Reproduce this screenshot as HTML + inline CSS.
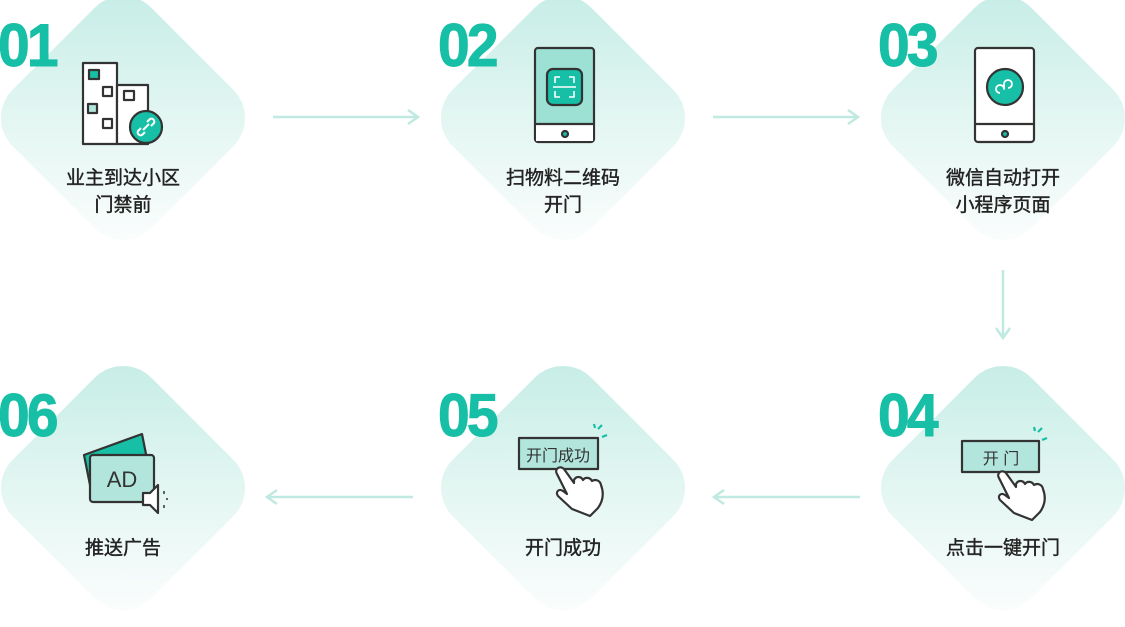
<!DOCTYPE html>
<html><head><meta charset="utf-8"><style>
body{margin:0;width:1125px;height:614px;background:#fff;position:relative;overflow:hidden;font-family:"Liberation Sans","Noto Sans CJK SC",sans-serif}
.d{position:absolute;width:196px;height:196px;border-radius:40px;transform:rotate(45deg);background:linear-gradient(to bottom right,#c4ece5 0%,#e3f6f2 50%,#fdfefe 100%)}
.n{position:absolute;font-weight:bold;font-size:60px;color:#16bfa5;letter-spacing:-3px;line-height:1;transform:scaleX(0.95);transform-origin:left;-webkit-text-stroke:1px #16bfa5}
.t{position:absolute;width:200px;text-align:center;font-size:19px;font-weight:normal;color:#222;line-height:27px;font-family:"Liberation Sans","Noto Sans CJK SC",sans-serif;-webkit-text-stroke:0.4px #222}
svg{position:absolute;left:0;top:0}
</style></head><body>
<div class="d" style="left:25px;top:20px"></div>
<div class="d" style="left:465px;top:20px"></div>
<div class="d" style="left:905px;top:20px"></div>
<div class="d" style="left:25px;top:390px"></div>
<div class="d" style="left:465px;top:390px"></div>
<div class="d" style="left:905px;top:390px"></div>
<div class="n" style="left:-2px;top:16px">01</div>
<div class="n" style="left:438px;top:16px">02</div>
<div class="n" style="left:878px;top:16px">03</div>
<div class="n" style="left:878px;top:386px">04</div>
<div class="n" style="left:438px;top:386px">05</div>
<div class="n" style="left:-2px;top:386px">06</div>
<div class="t" style="left:23px;top:165px">业主到达小区<br>门禁前</div>
<div class="t" style="left:463px;top:165px">扫物料二维码<br>开门</div>
<div class="t" style="left:903px;top:165px">微信自动打开<br>小程序页面</div>
<div class="t" style="left:903px;top:535px">点击一键开门</div>
<div class="t" style="left:463px;top:535px">开门成功</div>
<div class="t" style="left:23px;top:535px">推送广告</div>
<svg width="1125" height="614" viewBox="0 0 1125 614">
<g stroke="#bfe9e1" stroke-width="2.5" fill="none">
<path d="M273 117H418M408 110L418 117L408 124"/>
<path d="M713 117H858M848 110L858 117L848 124"/>
<path d="M1003 270V338M996 328L1003 338L1010 328"/>
<path d="M860 497H714M724 490L714 497L724 504"/>
<path d="M413 497H267M277 490L267 497L277 504"/>
</g>
<g stroke="#333" stroke-width="2.2" fill="none" stroke-linejoin="round">
<rect x="83" y="63" width="34" height="81" fill="#fff"/>
<rect x="117" y="85" width="31" height="59" fill="#fff"/>
<rect x="89" y="70" width="10" height="9" fill="#16bfa5"/>
<rect x="103" y="87" width="9" height="9"/>
<rect x="88" y="104" width="9" height="9" fill="#b2e6dc"/>
<rect x="103" y="119" width="9" height="9"/>
<rect x="124" y="91" width="10" height="9"/>
<circle cx="146" cy="127" r="16" fill="#16bfa5"/>
<path d="M141 128l-3 3a3 3 0 0 0 4 4l3-3M151 126l3-3a3 3 0 0 0-4-4l-3 3M143 130l6-6" stroke="#fff" stroke-width="2"/>
<rect x="535" y="48" width="59" height="94" rx="3" fill="#9de0d4"/>
<rect x="536" y="124" width="57" height="17" fill="#fff" stroke="none"/>
<path d="M535 124H594"/>
<circle cx="565" cy="134" r="3" fill="#16bfa5"/>
<rect x="547" y="69" width="35" height="36" rx="6" fill="#16bfa5"/>
<path d="M555 83v-6h5M569 77h5v6M555 91v6h5M569 97h5v-6M553 87h23" stroke="#fff" stroke-width="1.6"/>
<rect x="975" y="48" width="59" height="94" rx="3" fill="#fff"/>
<path d="M975 124H1034"/>
<circle cx="1005" cy="134" r="3" fill="#16bfa5"/>
<circle cx="1005" cy="87" r="18" fill="#16bfa5"/>
<path d="M1000 93a4 4 0 1 1 4-4v-5a4 4 0 1 1 4 4" stroke="#fff" stroke-width="1.8"/>
<rect x="962" y="441" width="77" height="31" fill="#b2e6dc"/>
<path d="M1038 432l4-4M1042 440l5-2M1035 431l-1-4" stroke="#16bfa5"/>
<rect x="519" y="438" width="79" height="31" fill="#b2e6dc"/>
<path d="M598 429l4-4M602 437l5-2M595 428l-1-4" stroke="#16bfa5"/>
<path d="M999 478c-3-5 3-9 7-5l10 14 0-3c2-4 7-4 9 0 2-3 7-3 9 1 3-2 8-1 9 4 3 8 2 16-3 23l-8 8-18-7-14-13c-3-4 1-8 5-5l4 3z" fill="#fff"/>
<path d="M557 474c-3-5 3-9 7-5l10 14 0-3c2-4 7-4 9 0 2-3 7-3 9 1 3-2 8-1 9 4 3 8 2 16-3 23l-8 8-18-7-14-13c-3-4 1-8 5-5l4 3z" fill="#fff"/>
<path d="M84 455l58-21 8 40-58 21z" fill="#16bfa5"/>
<rect x="90" y="455" width="64" height="47" rx="3" fill="#b2e6dc"/>
<path d="M143 493h7l8-8v28l-8-8h-7z" fill="#fff"/>
<path d="M164 491v3M167 498v2M164 505v3" stroke-width="1.5"/>
</g>
<text x="122" y="487" font-size="22" fill="#333" text-anchor="middle" font-family="Liberation Sans,sans-serif">AD</text>
<text x="1001" y="464" font-size="16" fill="#333" text-anchor="middle" font-family="Liberation Sans,Noto Sans CJK SC,sans-serif">开 门</text>
<text x="558" y="461" font-size="16" fill="#333" text-anchor="middle" font-family="Liberation Sans,Noto Sans CJK SC,sans-serif">开门成功</text>
</svg>
</body></html>
